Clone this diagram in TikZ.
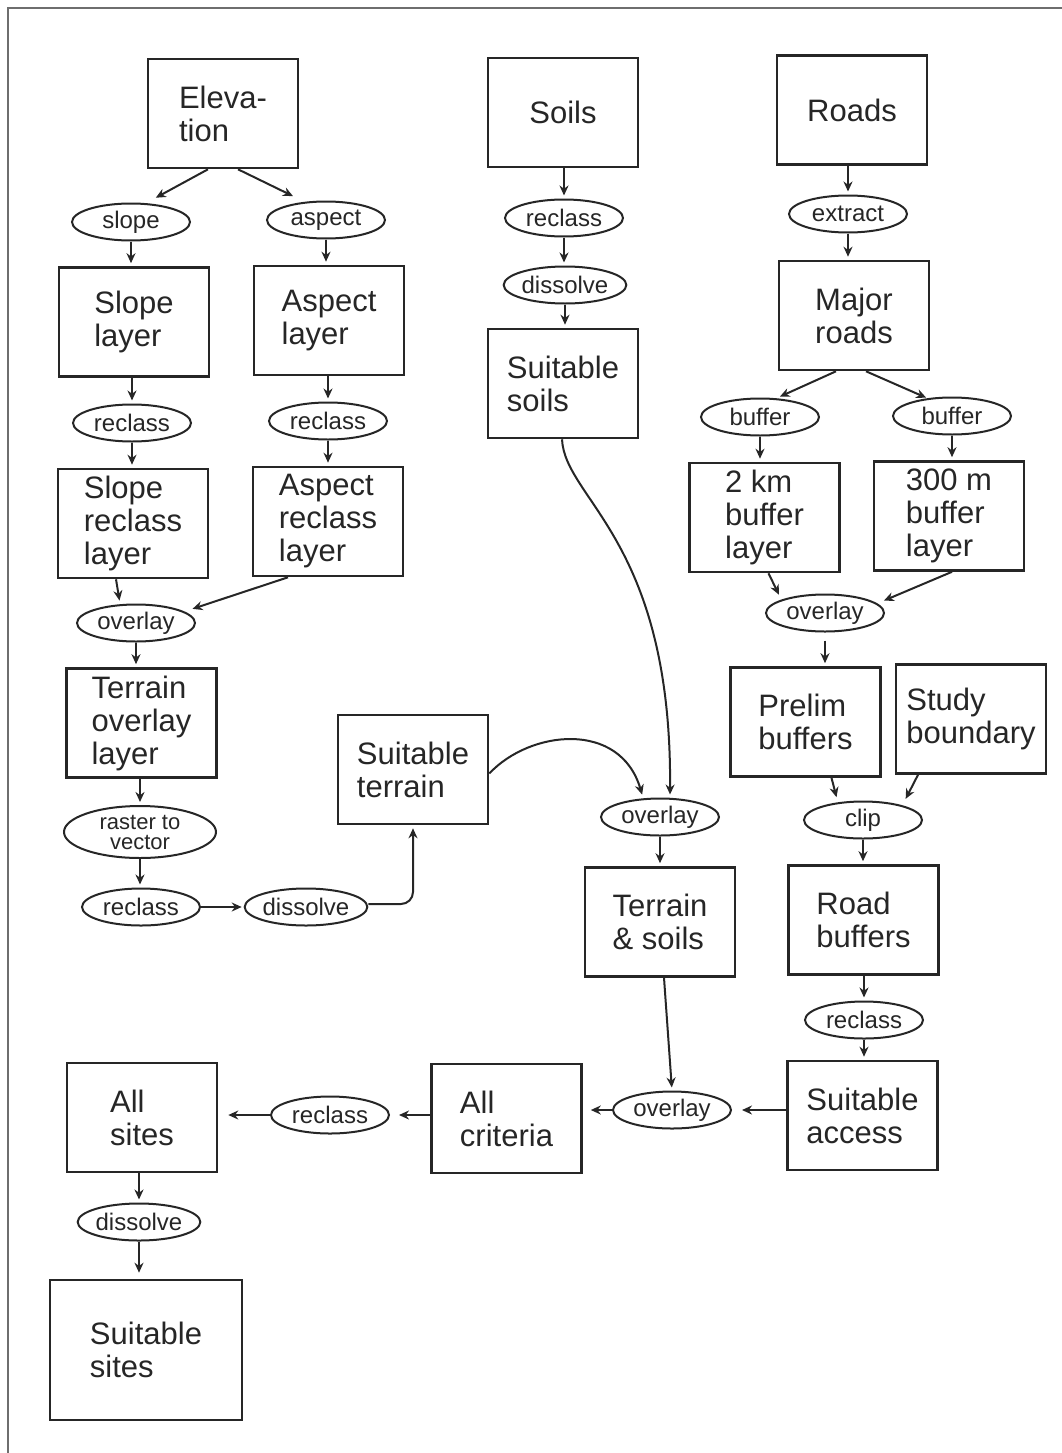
\documentclass[tikz,border=0pt]{standalone}
\usepackage{fontspec}
\setmainfont{Liberation Sans}
\usetikzlibrary{arrows.meta,shapes.geometric,calc}
\definecolor{ink}{HTML}{262626}
\definecolor{framegray}{HTML}{6E6E6E}
\begin{document}
\begin{tikzpicture}[x=1pt,y=-1pt,
  box/.style={draw=ink, line width=2.6pt, minimum width=150, minimum height=109,
    inner sep=1pt, align=left, text=ink, font=\fontsize{31}{33}\selectfont},
  op/.style={draw=ink, ellipse, line width=2pt, minimum width=118, minimum height=37,
    inner sep=0pt, text=ink, font=\fontsize{24}{24}\selectfont},
  flow/.style={draw=ink, line width=2pt, -{Stealth[length=10pt,width=9pt]}, shorten >=3pt},
  gap/.style={shorten >=10pt},
  frame/.style={draw=framegray, line width=2pt}]
\useasboundingbox (0,0) rectangle (1062,1453);
\draw[frame] (8,1453) -- (8,8) -- (1062,8);

% ---- terrain branch
\node[box] (elev)  at (223,113.5) {Eleva-\\tion};
\node[op]  (slope) at (131,222) {slope};
\node[op]  (asp)   at (326,220) {aspect};
\node[box] (slL)   at (134,322) {Slope\\layer};
\node[box] (asL)   at (329,320.5) {Aspect\\layer};
\node[op]  (rcS)   at (132,423) {reclass};
\node[op]  (rcA)   at (328,421) {reclass};
\node[box] (slR)   at (133,523.5) {Slope\\reclass\\layer};
\node[box] (asR)   at (328,521.5) {Aspect\\reclass\\layer};
\node[op]  (ovL)   at (136,623) {overlay};
\node[box] (tol)   at (141.5,723) {Terrain\\overlay\\layer};
\node[op, minimum width=152, minimum height=52, align=center,
      font=\fontsize{22}{20}\selectfont] (r2v) at (140,832) {raster to\\vector};
\node[op]  (rcB)   at (141,907) {reclass};
\node[op]  (dsB)   at (306,907) {dissolve};
\node[box] (st)    at (413,769.5) {Suitable\\terrain};

% ---- soils branch
\node[box] (soils) at (563,112.5) {Soils};
\node[op]  (rcSo)  at (564,218) {reclass};
\node[op]  (dsSo)  at (565,285) {dissolve};
\node[box] (ss)    at (563,383.5) {Suitable\\soils};

% ---- roads branch
\node[box] (roads) at (852,110) {Roads};
\node[op]  (ext)   at (848,214) {extract};
\node[box] (mr)    at (854,315.5) {Major\\roads};
\node[op]  (bufL)  at (760,417) {buffer};
\node[op]  (bufR)  at (952,416) {buffer};
\node[box] (b2)    at (764.5,517.5) {2 km\\buffer\\layer};
\node[box] (b3)    at (949,516) {300 m\\buffer\\layer};
\node[op]  (ovR)   at (825,613) {overlay};
\node[box] (pb)    at (805.5,722) {Prelim\\buffers};
\node[box] (sb)    at (971,719) {Study\\boundary};
\node[op]  (clip)  at (863,820) {clip};
\node[box] (rb)    at (863.5,920) {Road\\buffers};
\node[op]  (rcR)   at (864,1020) {reclass};
\node[box] (sa)    at (862.5,1115.5) {Suitable\\access};

% ---- combination
\node[op]  (ovM)   at (660,817) {overlay};
\node[box] (ts)    at (660,922) {Terrain\\\& soils};
\node[op]  (ovB)   at (672,1110) {overlay};
\node[box] (ac)    at (506.5,1118.5) {All\\criteria};
\node[op]  (rcF)   at (330,1115) {reclass};
\node[box] (as)    at (142,1117.5) {All\\sites};
\node[op]  (dsF)   at (139,1222) {dissolve};
\node[box, minimum width=192, minimum height=140] (sus) at (146,1350) {Suitable\\sites};

% ---- connectors, terrain
\draw[flow, gap] ($(elev.south)+(-15,0)$) -- ($(slope.north)+(16,0)$);
\draw[flow, gap] ($(elev.south)+(15,0)$) -- ($(asp.north)+(-24,0)$);
\draw[flow] (slope.south) -- (slope.south |- slL.north);
\draw[flow] (asp.south) -- (asp.south |- asL.north);
\draw[flow] (slL.south -| rcS) -- (rcS.north);
\draw[flow] (asL.south -| rcA) -- (rcA.north);
\draw[flow] (rcS.south) -- (rcS.south |- slR.north);
\draw[flow] (rcA.south) -- (rcA.south |- asR.north);
\draw[flow] ($(slR.south)+(-17,0)$) -- ($(ovL.north)+(-16,0)$);
\draw[flow, gap] ($(asR.south)+(-40,0)$) -- ($(ovL.center)+(47,-11)$);
\draw[flow] (ovL.south) -- (ovL.south |- tol.north);
\draw[flow] (tol.south -| r2v) -- (r2v.north);
\draw[flow] (r2v.south) -- (r2v.south |- rcB.north);
\draw[flow, shorten >=2pt] (rcB.east) -- (dsB.west);
\draw[flow, rounded corners=12pt] ($(dsB.east)+(0,-3)$) -| (st.south);

% ---- connectors, soils
\draw[flow] (soils.south -| rcSo) -- (rcSo.north);
\draw[flow] (rcSo.south) -- (rcSo.south |- dsSo.north);
\draw[flow] (dsSo.south) -- (dsSo.south |- ss.north);
\draw[flow] ($(ss.south)+(-1,0)$) .. controls (565,500) and (672,540) .. ($(ovM.north)+(10,0)$);
\draw[flow] ($(st.east)+(0,4)$) .. controls (530,730) and (620,720) .. ($(ovM.north)+(-17,0)$);

% ---- connectors, roads
\draw[flow] (roads.south -| ext) -- (ext.north);
\draw[flow] (ext.south) -- (ext.south |- mr.north);
\draw[flow, shorten >=2pt] ($(mr.south)+(-18,0)$) -- ($(bufL.north)+(18,0)$);
\draw[flow, shorten >=2pt] ($(mr.south)+(12,0)$) -- ($(bufR.north)+(-24,2)$);
\draw[flow] (bufL.south) -- (bufL.south |- b2.north);
\draw[flow] (bufR.south) -- (bufR.south |- b3.north);
\draw[flow, shorten >=7pt] ($(b2.south)+(4,0)$) -- ($(ovR.center)+(-43,-12)$);
\draw[flow, shorten >=1pt] ($(b3.south)+(3,0)$) -- ($(ovR.center)+(58,-12)$);
\draw[flow, shorten <=8pt] (ovR.south) -- (ovR.south |- pb.north);
\draw[flow, shorten >=6pt] ($(pb.south)+(26,0)$) -- ($(clip.center)+(-25,-17)$);
\draw[flow, shorten >=8pt] ($(sb.south)+(-53,0)$) -- ($(clip.center)+(39,-14)$);
\draw[flow] (clip.south) -- (clip.south |- rb.north);
\draw[flow] (rb.south -| rcR) -- (rcR.north);
\draw[flow] (rcR.south) -- (rcR.south |- sa.north);

% ---- connectors, combination
\draw[flow] (ovM.south) -- (ovM.south |- ts.north);
\draw[flow] ($(ts.south)+(4,0)$) -- (ovB.north);
\draw[flow, gap] (sa.west |- ovB.east) -- (ovB.east);
\draw[flow, shorten >=8pt] (ovB.west) -- (ovB.west -| ac.east);
\draw[flow, shorten >=9pt] (ac.west |- rcF.east) -- (rcF.east);
\draw[flow, gap] (rcF.west) -- (rcF.west -| as.east);
\draw[flow] (as.south -| dsF) -- (dsF.north);
\draw[flow, shorten >=6pt] (dsF.south) -- (dsF.south |- sus.north);
\end{tikzpicture}
\end{document}
